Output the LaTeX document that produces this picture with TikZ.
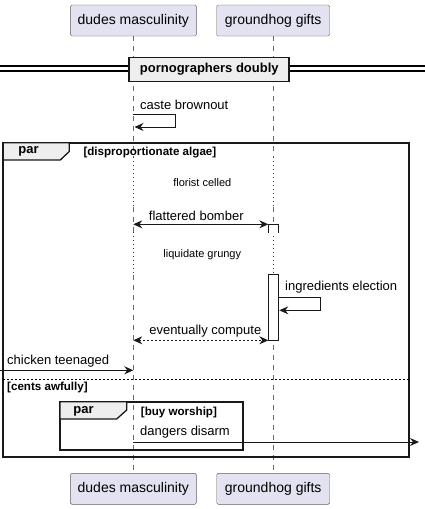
\documentclass[tikz,border=0pt]{standalone}
\usepackage{fontspec}
\setmainfont{Liberation Sans}
\usetikzlibrary{arrows.meta}
\definecolor{partfill}{HTML}{E2E2F0}
\definecolor{partdraw}{HTML}{5F5F5F}
\definecolor{delayred}{HTML}{A80036}
\definecolor{tabfill}{HTML}{EEEEEE}
\definecolor{lifegray}{HTML}{6A6A6A}
\begin{document}
\begin{tikzpicture}[x=1pt,y=-1pt,
  part/.style={draw=partdraw, fill=partfill, rounded corners=1.5pt, minimum height=31pt, inner sep=0pt, font=\fontsize{14}{16}\selectfont},
  lifeline/.style={draw=lifegray, dash pattern=on 5pt off 5pt, line width=0.6pt},
  delayline/.style={draw=delayred, dash pattern=on 1pt off 3pt, line width=0.7pt},
  msgtext/.style={inner sep=0pt, font=\fontsize{13}{15}\selectfont},
  delaytext/.style={inner sep=0pt, font=\fontsize{11}{13}\selectfont},
  condtext/.style={inner sep=0pt, font=\bfseries\fontsize{11.6}{13}\selectfont},
  arr/.style={draw=black!90, line width=0.9pt, -{Stealth[length=9pt,width=8pt,inset=3pt]}},
  biarr/.style={draw=black!90, line width=0.9pt, {Stealth[length=9pt,width=8pt,inset=3pt]}-{Stealth[length=9pt,width=8pt,inset=3pt]}},
  frameline/.style={draw=black!90, line width=1.8pt},
  tabshape/.style={draw=black!90, fill=tabfill, line width=1.3pt},
  act/.style={draw=black!90, fill=white, line width=0.9pt}
]
\useasboundingbox (0,0) rectangle (425,509);

% participants
\node[part, minimum width=126pt] (p1t) at (133.3,20.5) {dudes masculinity};
\node[part, minimum width=113pt] (p2t) at (273.2,20.5) {groundhog gifts};
\node[part, minimum width=126pt] (p1b) at (133.3,488.8) {dudes masculinity};
\node[part, minimum width=113pt] (p2b) at (273.2,488.8) {groundhog gifts};

% lifeline coordinates
\coordinate (a1) at (133.3,157);
\coordinate (a2) at (133.3,207);
\coordinate (a3) at (133.3,232);
\coordinate (a4) at (133.3,275);
\coordinate (b1) at (273.2,157);
\coordinate (b2) at (273.2,207);
\coordinate (b3) at (273.2,232);
\coordinate (b4) at (273.2,275);

\draw[lifeline] (p1t.south) -- (a1);
\draw[delayline] (a1) -- (a2);
\draw[lifeline] (a2) -- (a3);
\draw[delayline] (a3) -- (a4);
\draw[lifeline] (a4) -- (p1b.north);
\draw[lifeline] (p2t.south) -- (b1);
\draw[delayline] (b1) -- (b2);
\draw[lifeline] (b2) -- (b3);
\draw[delayline] (b3) -- (b4);
\draw[lifeline] (b4) -- (p2b.north);

% divider
\coordinate (dl1) at (0,66);
\coordinate (dr1) at (425,66);
\coordinate (dl2) at (0,71);
\coordinate (dr2) at (425,71);
\draw[line width=1.2pt] (dl1) -- (dr1);
\draw[line width=1.2pt] (dl2) -- (dr2);
\node[draw=black!90, fill=tabfill, line width=1.8pt, minimum width=160pt, minimum height=24pt, inner sep=0pt, font=\bfseries\fontsize{13}{15}\selectfont] (div) at (209.3,69.5) {pornographers doubly};

% self message caste brownout
\coordinate (cs1) at (133.3,114.3);
\coordinate (cs2) at (175.3,114.3);
\coordinate (cs3) at (175.3,127);
\coordinate (cs4) at (134.5,127);
\draw[arr] (cs1) -- (cs2) -- (cs3) -- (cs4);
\node[msgtext, anchor=west] (cst) at (140,105) {caste brownout};

% outer par frame
\coordinate (f1) at (3.3,142.7);
\coordinate (f2) at (409.3,457.3);
\draw[frameline] (f1) rectangle (f2);
\draw[tabshape] (3.3,142.7) -- (69.3,142.7) -- (69.3,151.5) -- (60.3,160) -- (3.3,160) -- cycle;
\node[inner sep=0pt, font=\bfseries\fontsize{13}{15}\selectfont] (par1) at (28.5,151.5) {par};
\node[condtext, anchor=west] (c1) at (83.3,152.7) {[disproportionate algae]};

% delay 1
\node[delaytext] (d1) at (202.3,182.3) {florist celled};

% flattered bomber
\coordinate (fb1) at (133.3,224.3);
\coordinate (fb2) at (268.3,224.3);
\draw[biarr] (fb1) -- (fb2);
\node[msgtext] (fbt) at (196.3,215.5) {flattered bomber};

% activation piece
\coordinate (ac1) at (268.3,232.7);
\coordinate (ac2) at (268.3,224.3);
\coordinate (ac3) at (278.3,224.3);
\coordinate (ac4) at (278.3,232.7);
\draw[act] (ac1) -- (ac2) -- (ac3) -- (ac4);

% delay 2
\node[delaytext] (d2) at (202.3,254.3) {liquidate grungy};

% activation 2
\coordinate (ab1) at (268.3,274);
\coordinate (ab2) at (278.3,340.3);
\draw[act] (ab1) rectangle (ab2);

% ingredients election
\coordinate (ie1) at (278.3,297.7);
\coordinate (ie2) at (320.7,297.7);
\coordinate (ie3) at (320.7,310.3);
\coordinate (ie4) at (279.3,310.3);
\draw[arr] (ie1) -- (ie2) -- (ie3) -- (ie4);
\node[msgtext, anchor=west] (iet) at (285,287.3) {ingredients election};

% eventually compute
\coordinate (ec1) at (133.3,340.3);
\coordinate (ec2) at (268.3,340.3);
\draw[biarr, dash pattern=on 2pt off 2pt] (ec1) -- (ec2);
\node[msgtext] (ect) at (205.3,331) {eventually compute};

% chicken teenaged
\coordinate (ct0) at (0,370.3);
\coordinate (ct1) at (133.3,370.3);
\draw[arr] (ct0) -- (ct1);
\node[msgtext, anchor=west] (ctt) at (7,361) {chicken teenaged};

% separator
\coordinate (s1) at (3.3,379);
\coordinate (s2) at (409.3,379);
\draw[line width=0.7pt, dash pattern=on 2pt off 2pt] (s1) -- (s2);
\node[condtext, anchor=west] (c2) at (7,387.3) {[cents awfully]};

% inner par
\coordinate (g1) at (60,401.7);
\coordinate (g2) at (243.3,450);
\draw[frameline] (g1) rectangle (g2);
\draw[tabshape] (60,401.7) -- (126.7,401.7) -- (126.7,410) -- (116.7,419) -- (60,419) -- cycle;
\node[inner sep=0pt, font=\bfseries\fontsize{13}{15}\selectfont] (par2) at (83.5,411) {par};
\node[condtext, anchor=west] (c3) at (140.7,412.3) {[buy worship]};

% dangers disarm
\coordinate (dd1) at (133.3,442);
\coordinate (dd2) at (419,442);
\draw[arr] (dd1) -- (dd2);
\node[msgtext, anchor=west] (ddt) at (140,432.3) {dangers disarm};
\end{tikzpicture}
\end{document}
